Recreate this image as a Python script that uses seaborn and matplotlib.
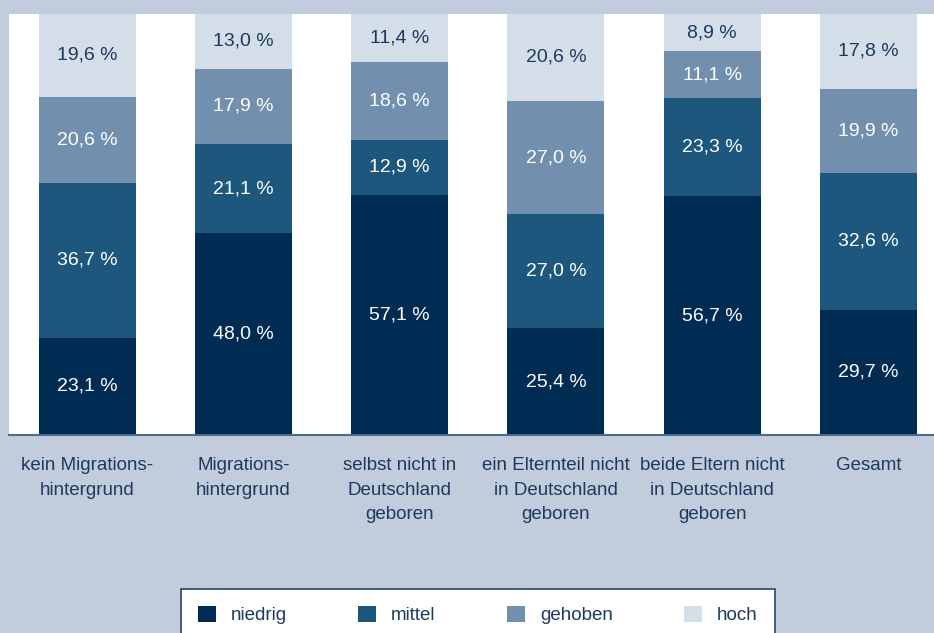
import numpy as np
import pandas as pd
import matplotlib
matplotlib.use("Agg")
import matplotlib.pyplot as plt
import seaborn as sns
from matplotlib.patches import Patch

# data
categories = ["kein Migrations-\nhintergrund", "Migrations-\nhintergrund",
              "selbst nicht in\nDeutschland\ngeboren", "ein Elternteil nicht\nin Deutschland\ngeboren",
              "beide Eltern nicht\nin Deutschland\ngeboren", "Gesamt"]
niedrig = [23.1, 48.0, 57.1, 25.4, 56.7, 29.7]
mittel = [36.7, 21.1, 12.9, 27.0, 23.3, 32.6]
gehoben = [20.6, 17.9, 18.6, 27.0, 11.1, 19.9]
hoch = [19.6, 13.0, 11.4, 20.6, 8.9, 17.8]

levels = ["niedrig", "mittel", "gehoben", "hoch"]
colors = ["#002b52", "#1e577e", "#728fae", "#d4dee8"]
text_colors = ["white", "white", "white", "#1d3a5e"]
bg = "#c1ccdd"
dark = "#1d3a5e"

sns.set_theme(style="white")
plt.rcParams["font.family"] = ["Liberation Sans", "DejaVu Sans"]

df = pd.DataFrame({"cat": categories, "niedrig": niedrig, "mittel": mittel,
                   "gehoben": gehoben, "hoch": hoch})
cum = df[levels].cumsum(axis=1)

fig = plt.figure(figsize=(9.34, 6.33), dpi=100)
fig.patch.set_facecolor(bg)
ax = fig.add_axes([9 / 934, 1 - 435 / 633, 1 - 9 / 934, (435 - 14) / 633])
ax.set_facecolor("white")

# stacked bars: draw cumulative totals from top down
for lev, col in reversed(list(zip(levels, colors))):
    sns.barplot(x=df["cat"], y=cum[lev], color=col, width=0.62, ax=ax,
                saturation=1, linewidth=0, order=categories)

# value labels
for i in range(len(categories)):
    base = 0
    for lev, tc in zip(levels, text_colors):
        v = df[lev][i]
        ax.text(i, base + v / 2, f"{v:.1f} %".replace(".", ","), ha="center", va="center",
                color=tc, fontsize=14)
        base += v

ax.set_xlim(-0.5, 5.42)
ax.set_ylim(0, 100)
ax.set_xlabel("")
ax.set_ylabel("")
ax.set_yticks([])
for s in ["top", "left", "right"]:
    ax.spines[s].set_visible(False)
ax.spines["bottom"].set_color("#4d6a8b")
ax.spines["bottom"].set_linewidth(1.5)
ax.set_xticks(range(len(categories)))
ax.set_xticklabels(categories, fontsize=13.5, color=dark, linespacing=1.58)
ax.set_xticks(np.arange(-0.5, 5.0, 1), minor=True)
ax.tick_params(axis="x", which="major", length=0, pad=16)
ax.tick_params(axis="x", which="minor", length=5, width=1.2, color="#4d6a8b", direction="out")

handles = [Patch(facecolor=c, edgecolor="none", label=l) for l, c in zip(levels, colors)]
leg = fig.legend(handles=handles, loc="upper left", bbox_to_anchor=(181 / 934, 1 - 589 / 633),
                 borderaxespad=0, ncol=4, frameon=True, fontsize=13.5, handlelength=0.96,
                 handleheight=0.96, handletextpad=0.8, columnspacing=3.8, borderpad=0.9,
                 fancybox=False, labelcolor=dark)
leg.get_frame().set_edgecolor("#2a4565")
leg.get_frame().set_linewidth(1.2)
leg.get_frame().set_facecolor("white")
leg.get_frame().set_alpha(1)

fig.savefig("out.png", dpi=100, facecolor=bg)
